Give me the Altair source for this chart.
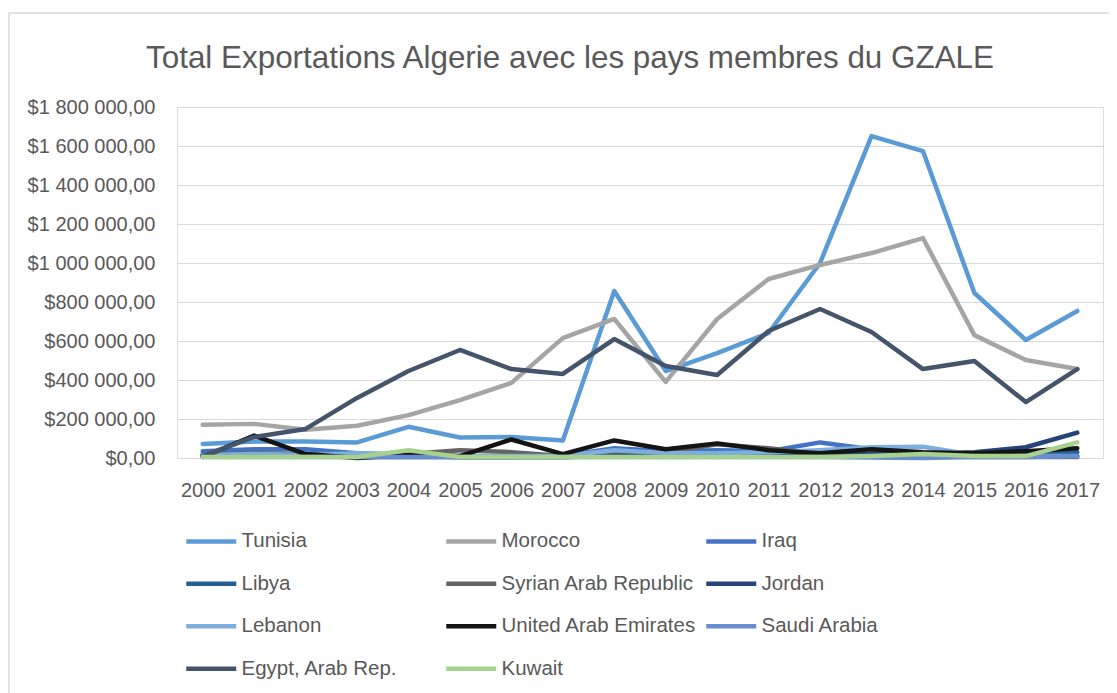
import altair as alt
import pandas as pd

FONT = "Liberation Sans"
TEXT = "#595959"
GRID = "#D9D9D9"

years = list(range(2000, 2018))

countries = [
    "Tunisia", "Morocco", "Iraq", "Libya", "Syrian Arab Republic", "Jordan",
    "Lebanon", "United Arab Emirates", "Saudi Arabia", "Egypt, Arab Rep.", "Kuwait",
]
colors = [
    "#5B9BD5", "#A5A5A5", "#4472C4", "#255E91", "#636363", "#264478",
    "#7CAFDD", "#141414", "#698ED0", "#44546A", "#A9D18E",
]

tunisia = [72000, 85000, 85000, 80000, 160000, 105000, 108000, 90000, 856000, 446000,
           538000, 641000, 1000000, 1651000, 1574000, 846000, 605000, 754000]
morocco = [170000, 175000, 145000, 165000, 220000, 297000, 385000, 615000, 713000, 390000,
           713000, 918000, 990000, 1051000, 1128000, 630000, 503000, 456000]
iraq = [35000, 45000, 45000, 25000, 10000, 5000, 5000, 10000, 50000, 35000,
        40000, 35000, 80000, 45000, 20000, 10000, 10000, 10000]
libya = [20000, 20000, 15000, 10000, 10000, 5000, 5000, 5000, 10000, 15000,
         20000, 10000, 10000, 10000, 10000, 15000, 20000, 30000]
syria = [15000, 25000, 20000, 15000, 20000, 40000, 30000, 10000, 20000, 30000,
         70000, 50000, 20000, 15000, 10000, 5000, 5000, 5000]
jordan = [15000, 15000, 10000, 5000, 5000, 5000, 5000, 5000, 10000, 10000,
          10000, 15000, 15000, 20000, 20000, 30000, 55000, 130000]
lebanon = [15000, 20000, 15000, 25000, 20000, 10000, 10000, 10000, 40000, 25000,
           25000, 30000, 40000, 55000, 58000, 15000, 10000, 10000]
uae = [5000, 115000, 20000, 0, 15000, 10000, 95000, 20000, 90000, 45000,
       75000, 40000, 25000, 45000, 30000, 25000, 35000, 50000]
saudi = [5000, 5000, 5000, 5000, 5000, 5000, 5000, 5000, 5000, 5000,
         5000, 5000, 5000, 3000, 0, 5000, 5000, 10000]
egypt = [10000, 108000, 149000, 308000, 446000, 554000, 456000, 431000, 610000, 472000,
         426000, 651000, 764000, 646000, 456000, 497000, 287000, 456000]
kuwait = [5000, 5000, 5000, 5000, 40000, 5000, 5000, 5000, 5000, 5000,
          5000, 5000, 5000, 10000, 20000, 10000, 10000, 80000]

series = [tunisia, morocco, iraq, libya, syria, jordan, lebanon, uae, saudi, egypt, kuwait]
y_ticks = [0, 200000, 400000, 600000, 800000, 1000000, 1200000, 1400000, 1600000, 1800000]

rows = []
for name, vals in zip(countries, series):
    for yr, v in zip(years, vals):
        rows.append({"Pays": name, "Annee": str(yr), "Valeur": v})
df = pd.DataFrame(rows)

PLOT_LEFT, PLOT_TOP, W, H = 177, 107, 926, 351

base = alt.Chart(df)

legend = alt.Legend(
    orient="none", legendX=24, legendY=424, columns=3, direction="horizontal",
    title=None,
    symbolType="M-5,0H5", symbolSize=100, symbolStrokeWidth=4.5,
    labelOffset=20, labelFont=FONT, labelFontSize=20.5, labelColor=TEXT,
    rowPadding=21.5, columnPadding=0, gridAlign="all", labelLimit=400, padding=0,
)

y_label = ("'$' + replace(replace(replace(format(datum.value, ',.2f'), ',', ' '), "
           "',', ' '), '.', ',')")

def layer(name):
    return base.transform_filter(alt.datum.Pays == name).mark_line(
        strokeWidth=4.5, strokeCap="round", strokeJoin="round"
    ).encode(
        x=alt.X("Annee:O", scale=alt.Scale(type="point", padding=0.5),
                axis=alt.Axis(title=None, labelAngle=0, grid=False, ticks=False,
                              domain=False, labelFont=FONT, labelFontSize=20,
                              labelColor=TEXT, labelPadding=22)),
        y=alt.Y("Valeur:Q", scale=alt.Scale(domain=[0, 1800000], nice=False),
                axis=alt.Axis(title=None, values=y_ticks, labelExpr=y_label, grid=True,
                              gridColor=GRID, domain=False, ticks=False,
                              labelFont=FONT, labelFontSize=20, labelColor=TEXT,
                              labelPadding=22)),
        color=alt.Color("Pays:N", scale=alt.Scale(domain=countries, range=colors),
                        legend=legend),
    )

border = alt.Chart(pd.DataFrame({"a": [0]})).mark_rect(
    fill="transparent", stroke=GRID, strokeWidth=1.5
).encode(
    x=alt.value(9 - PLOT_LEFT), x2=alt.value(3000),
    y=alt.value(13 - PLOT_TOP), y2=alt.value(3000),
)

chart = alt.layer(border, *[layer(c) for c in countries]).properties(
    width=W, height=H,
    autosize=alt.AutoSizeParams(type="none"),
    padding={"left": PLOT_LEFT - 8, "top": PLOT_TOP - 8, "right": 6, "bottom": 235},
    title=alt.TitleParams(
        "Total Exportations Algerie avec les pays membres du GZALE",
        font=FONT, fontSize=31.4, fontWeight="normal", color=TEXT,
        anchor="middle", dx=-70, offset=-62,
    ),
).configure_view(stroke=None).configure(background="white")

chart.save("out.html", embed_options={"renderer": "svg", "actions": False})
